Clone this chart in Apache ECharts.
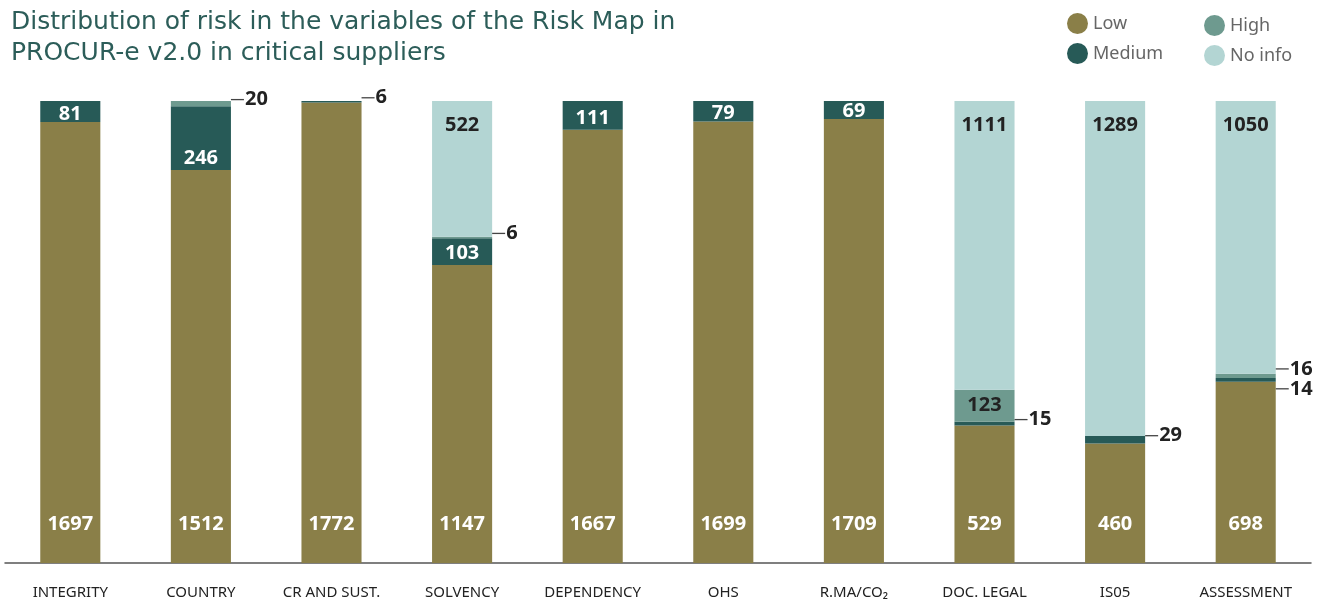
<!DOCTYPE html>
<html>
<head>
<meta charset="utf-8">
<script src="https://cdn.jsdelivr.net/npm/echarts@6/dist/echarts.min.js"></script>
<style>html,body{margin:0;padding:0;background:#fff}#c{width:1330px;height:605px}</style>
</head>
<body>
<div id="c"></div>
<script>
var categories = ['INTEGRITY','COUNTRY','CR AND SUST.','SOLVENCY','DEPENDENCY','OHS','R.MA/CO\u2082','DOC. LEGAL','IS05','ASSESSMENT'];
var low    = [1697,1512,1772,1147,1667,1699,1709,529,460,698];
var medium = [81,246,6,103,111,79,69,15,29,14];
var high   = [0,20,0,6,0,0,0,123,0,16];
var noInfo = [0,0,0,522,0,0,0,1111,1289,1050];

var colors = {Low:'#8a7f48', Medium:'#275a57', High:'#6e9a8f', 'No info':'#b3d5d3'};
var FONT = 'Noto Sans';

var outsideLabel = function(offY){
  return {
    show:true, position:'right', distance:0, offset:[0,offY],
    formatter:function(p){return '{l|}{n|'+p.value+'}';},
    rich:{
      l:{width:13,height:1.3,backgroundColor:'#444',verticalAlign:'middle'},
      n:{fontSize:20,fontWeight:'bold',color:'#222',fontFamily:FONT,padding:[0,0,0,1],verticalAlign:'middle',lineHeight:20}
    }
  };
};

function buildData(arr, insideLabelFn, name){
  return arr.map(function(v,i){
    var item = {value:v};
    if (v === 0) { item.label = {show:false}; return item; }
    if (v < 40) {
      var off = -4;
      if (categories[i] === 'ASSESSMENT') off = (name === 'High') ? -7 : 9;
      item.label = outsideLabel(off);
    } else {
      item.label = insideLabelFn(v);
    }
    return item;
  });
}

var whiteLab = function(pos, dist, smallOff){ return function(v){ return {show:true, position:pos, distance:dist, offset:[0,(v<100?smallOff:0)], color:'#fff', fontSize:20, fontWeight:'bold', fontFamily:FONT, lineHeight:20}; }; };
var darkLab = function(pos, dist){ return function(){ return {show:true, position:pos, distance:dist, color:'#222', fontSize:20, fontWeight:'bold', fontFamily:FONT, lineHeight:20}; }; };

var common = {type:'bar', stack:'total', barWidth:'46%', emphasis:{disabled:true}};

var option = {
  animation:false,
  title:{
    text:'Distribution of risk in the variables of the Risk Map in\nPROCUR-e v2.0 in critical suppliers',
    left:6, top:2,
    textStyle:{fontFamily:'DejaVu Sans', fontWeight:'normal', fontSize:25, color:'#2c5d59', lineHeight:31}
  },
  legend:[
    {data:['Low','Medium'], orient:'vertical', left:1062, top:8, icon:'circle', itemWidth:21, itemHeight:21, itemGap:9,
     textStyle:{fontFamily:FONT, fontSize:18, color:'#666'}},
    {data:['High','No info'], orient:'vertical', left:1199, top:10, icon:'circle', itemWidth:21, itemHeight:21, itemGap:9,
     textStyle:{fontFamily:FONT, fontSize:18, color:'#666'}}
  ],
  grid:{left:5, right:19, top:101, bottom:42},
  xAxis:{
    type:'category', data:categories,
    axisLine:{lineStyle:{color:'#555', width:1.5}},
    axisTick:{show:false},
    axisLabel:{fontFamily:FONT, fontSize:15, color:'#222', margin:22, interval:0}
  },
  yAxis:{type:'value', min:0, max:1778, show:false, splitLine:{show:false}},
  series:[
    Object.assign({}, common, {name:'Low', data:buildData(low, whiteLab('insideBottom',29,0),'Low'), itemStyle:{color:colors.Low}}),
    Object.assign({}, common, {name:'Medium', data:buildData(medium, whiteLab('insideBottom',2,4),'Medium'), itemStyle:{color:colors.Medium}}),
    Object.assign({}, common, {name:'High', data:buildData(high, darkLab('inside',0),'High'), itemStyle:{color:colors.High}}),
    Object.assign({}, common, {name:'No info', data:buildData(noInfo, darkLab('insideTop',14),'No info'), itemStyle:{color:colors['No info']}})
  ]
};
var chart = echarts.init(document.getElementById('c'));
chart.setOption(option);
</script>
</body>
</html>
